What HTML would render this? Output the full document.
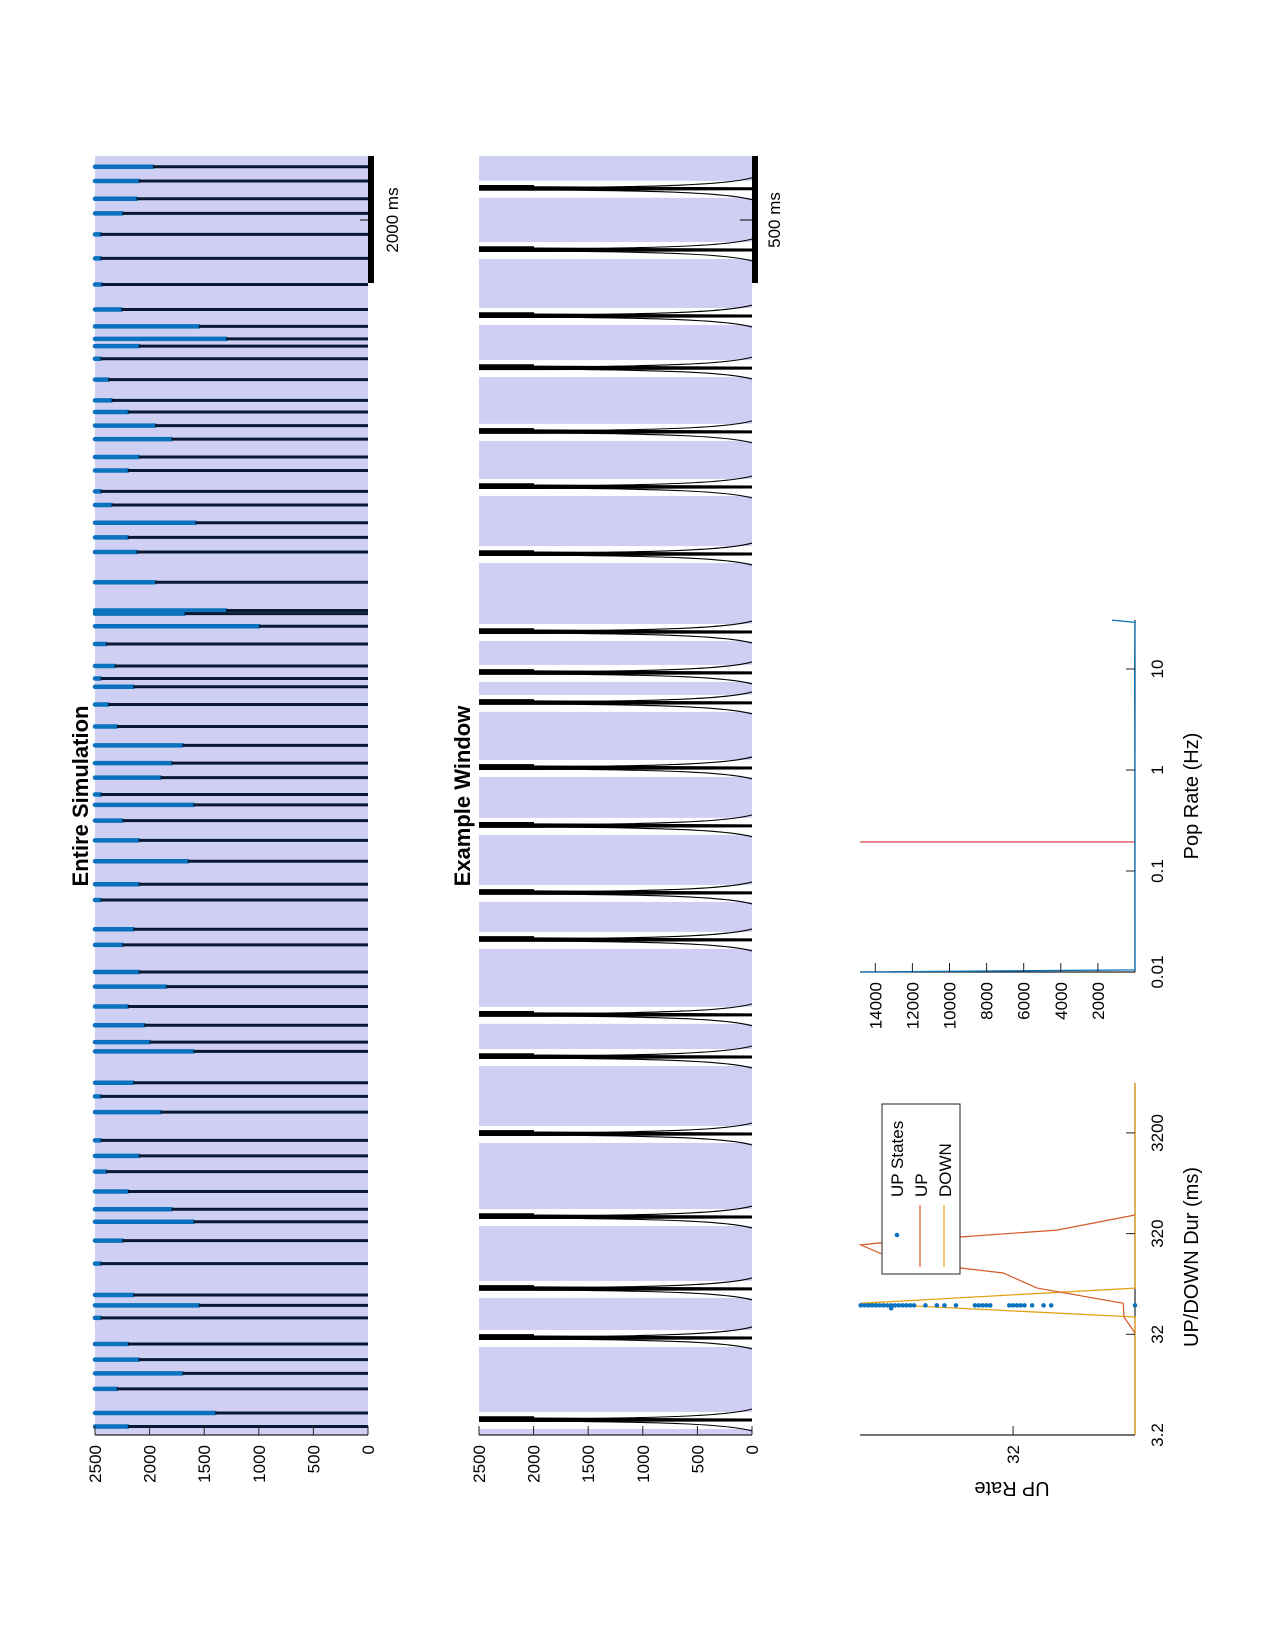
<!DOCTYPE html>
<html><head><meta charset="utf-8"><style>
html,body{margin:0;padding:0;background:#fff;}
svg{display:block;font-family:"Liberation Sans",sans-serif;}
</style></head><body>
<svg id="fig" width="1275" height="1650" viewBox="0 0 1275 1650" xmlns="http://www.w3.org/2000/svg">
<g id="p1"></g>
<g id="p2"></g>
<g id="p3"></g>
<g id="p4"></g>
</svg>
<script>
// ---- data: panel 1 (entire simulation) ----
const simSpikeTimes = [19970,19746,19466,19236,18906,18527,18116,17722,17457,17260,17146,16947,16619,16291,16109,15895,15681,15401,15188,14858,14645,14365,14134,13904,13427,12983,12934,12736,12456,12110,11913,11782,11502,11156,10860,10580,10351,10086,9922,9675,9364,9034,8672,8425,7964,7718,7290,7060,6747,6452,6187,6040,5546,5332,5085,4640,4395,4148,3835,3555,3358,3061,2699,2205,2041,1844,1433,1186,971,726,347,133];
const simBluePeak = [1970,2100,2120,2250,2450,2450,2440,2260,1550,1300,2100,2450,2380,2350,2200,1950,1800,2100,2200,2450,2350,1580,2200,2120,1950,1300,1680,1000,2400,2320,2450,2150,2380,2300,1700,1800,1900,2450,1600,2250,2100,1650,2100,2450,2150,2250,2100,1850,2200,2050,2000,1600,2150,2450,1900,2450,2100,2400,2200,1800,1600,2250,2450,2150,1550,2450,2200,2100,1700,2300,1400,2200];
const simTickLabels = ["2500","2000","1500","1000","500","0"];
const simTickValues = [2500,2000,1500,1000,500,0];
// ---- data: panel 2 (example window) ----
const winDipTimes = [4906,4665,4405,4200,3949,3732,3468,3161,3000,2882,2626,2398,2134,1949,1654,1488,1185,858,575,382,59];
// ---- data: panel 3 (UP/DOWN durations) ----
const durTickLabels = ["3.2","32","320","3200"];
const durTickValues = [3.2,32,320,3200];
const upDur = [490,347,296,258,247,205,146,130,92,65,47.5,33];
const upRate = [0,20.5,46,67,72,67,46,34.6,25.7,3.1,2.9,0];
const downDur = [10000,92,65,47.5,3.2];
const downRate = [0,0,72,0,0];
const dotRate = [72,71,70,69,68,67,66,65,64,63,62,61,60,59,58,55,52,50,47,42,41,40,39,38,33,32,31,30,29,27,24,22,0,64];
const dotDur = [62,62,62,62,62,62,62,62,62,62,62,62,62,62,62,62,62,62,62,62,62,62,62,62,62,62,62,62,62,62,62,62,62,58];
// ---- data: panel 4 (pop rate histogram) ----
const popRateBins = [0.01,0.0105,0.1,1,10,29,30.5];
const popCounts = [14800,0,5,5,20,0,1240];
const popThreshold = 0.194;
const countTickValues = [14000,12000,10000,8000,6000,4000,2000];
const rateTickLabels = ["0.01","0.1","1","10"];
const rateTickValues = [0.01,0.1,1,10];

const NS="http://www.w3.org/2000/svg";
function mk(parent,tag,attrs,text){const e=document.createElementNS(NS,tag);for(const k in attrs)e.setAttribute(k,attrs[k]);if(text!==undefined)e.textContent=text;parent.appendChild(e);return e;}
function vtext(parent,x,y,str,size,anchor,weight){const t=mk(parent,'text',{x:x,y:y,'font-size':size,'text-anchor':anchor,'font-weight':weight||'normal',fill:'#000',transform:`rotate(-90 ${x} ${y})`},str);return t;}
const LAV="#cfcff3", BLUE="#0b72bd";

// ===== Panel 1 =====
(function(){
const g=document.getElementById('p1');
const L=95,R=368,T=156,B=1435, TMAX=20140;
const xv=v=>R-(v/2500)*(R-L);
const yt=t=>B-(t/TMAX)*(B-T);
const bg=mk(g,'rect',{x:L,y:T,width:R-L,height:B-T,fill:LAV});


simSpikeTimes.forEach((t,i)=>{
  const y=yt(t);
  const b=mk(g,'line',{x1:xv(2500),y1:y,x2:xv(simBluePeak[i]),y2:y,stroke:BLUE,'stroke-width':4.5,'stroke-linecap':'round'});
  
  
  const k=mk(g,'line',{x1:xv(simBluePeak[i]),y1:y,x2:R,y2:y,stroke:'#081a33','stroke-width':3});
  
  
});
mk(g,'line',{x1:L,y1:B,x2:R,y2:B,stroke:'#222','stroke-width':1.2});
simTickValues.forEach((v,i)=>{
  const x=xv(v);
  mk(g,'line',{x1:x,y1:B,x2:x,y2:B-9,stroke:'#222','stroke-width':1});
  const t=vtext(g,x+6,B+10,simTickLabels[i],17,'end');
  
  
});
const sb=mk(g,'rect',{x:R,y:T,width:6,height:127,fill:'#000'});


mk(g,'line',{x1:R-8,y1:220,x2:R,y2:220,stroke:'#000','stroke-width':1});
const sl=vtext(g,398,220,"2000 ms",17,'middle');


const ti=vtext(g,88,796,"Entire Simulation",22,'middle','bold');


})();

// ===== Panel 2 =====
(function(){
const g=document.getElementById('p2');
const L=479,R=752,T=156,B=1435,TMAX=5035;
const xv=v=>R-(v/2500)*(R-L);
const yt=t=>B-(t/TMAX)*(B-T);
const ys=winDipTimes.map(yt).sort((a,b)=>a-b);
let prev=T;
ys.forEach(y=>{
  const r=mk(g,'rect',{x:L,y:prev,width:R-L,height:Math.max(0,y-8-prev),fill:LAV});
  
  
  prev=y+9;
});
const last=mk(g,'rect',{x:L,y:prev,width:R-L,height:Math.max(0,B-prev),fill:LAV});


ys.forEach(y=>{
  const d=mk(g,'g',{});
  
  
  mk(d,'path',{d:`M${R},${y-11} C${R-25},${y-4} ${R-90},${y-2} ${L+60},${y-1}`,fill:'none',stroke:'#000','stroke-width':1.1});
  mk(d,'path',{d:`M${R},${y+11} C${R-25},${y+4} ${R-90},${y+2} ${L+60},${y+1}`,fill:'none',stroke:'#000','stroke-width':1.1});
  mk(d,'path',{d:`M${L},${y-2.5} L${L+60},${y-2.5} L${R},${y-1.5} L${R},${y+1.5} L${L+60},${y+2} L${L},${y+2}Z`,fill:'#000'});
  mk(d,'line',{x1:L,y1:y-3,x2:L+55,y2:y-3,stroke:'#000','stroke-width':1.6});
});
mk(g,'line',{x1:L,y1:B,x2:R,y2:B,stroke:'#222','stroke-width':1.2});
simTickValues.forEach((v,i)=>{
  const x=xv(v);
  mk(g,'line',{x1:x,y1:B,x2:x,y2:B-9,stroke:'#222','stroke-width':1});
  const t=vtext(g,x+6,B+10,simTickLabels[i],17,'end');
  
  
});
const sb=mk(g,'rect',{x:R,y:T,width:6,height:127,fill:'#000'});


mk(g,'line',{x1:R-12,y1:220,x2:R,y2:220,stroke:'#000','stroke-width':1});
const sl=vtext(g,780,220,"500 ms",17,'middle');


const ti=vtext(g,470,796,"Example Window",22,'middle','bold');


})();

// ===== Panel 3 =====
(function(){
const g=document.getElementById('p3');
const X0=1135, XL=860, YB=1435, YT=1083;
const xr=r=>X0-r*3.81;
const yd=d=>YB-100.7*Math.log10(d/3.2);
mk(g,'line',{x1:XL,y1:YB,x2:X0,y2:YB,stroke:'#222','stroke-width':1.2});
mk(g,'line',{x1:X0,y1:YT,x2:X0,y2:YB,stroke:'#222','stroke-width':1.2});
const dpath=downDur.map((d,i)=>`${i?'L':'M'}${xr(downRate[i]).toFixed(1)},${yd(d).toFixed(1)}`).join(' ');
const dl=mk(g,'path',{d:dpath,fill:'none',stroke:'#e3a21a','stroke-width':1.3});


const upath=upDur.map((d,i)=>`${i?'L':'M'}${xr(upRate[i]).toFixed(1)},${yd(d).toFixed(1)}`).join(' ');
const ul=mk(g,'path',{d:upath,fill:'none',stroke:'#d45a2a','stroke-width':1.2});


dotRate.forEach((r,i)=>{
  const c=mk(g,'circle',{cx:xr(r),cy:yd(dotDur[i]),r:2.3,fill:BLUE});
  
  
});
durTickValues.forEach((v,i)=>{
  const y=yd(v);
  mk(g,'line',{x1:X0,y1:y,x2:X0-9,y2:y,stroke:'#222','stroke-width':1});
  const t=vtext(g,X0+28,y,durTickLabels[i],17,'middle');
  
  
});
mk(g,'line',{x1:xr(32),y1:YB,x2:xr(32),y2:YB-9,stroke:'#222','stroke-width':1});
const rt=vtext(g,xr(32)+6,YB+10,"32",17,'end');


const xl=vtext(g,1198,1257,"UP/DOWN Dur (ms)",20,'middle');


const yl=mk(g,'text',{x:1012,y:1482,'font-size':20,'text-anchor':'middle',transform:'rotate(180 1012 1482)'},"UP Rate");


const lg=mk(g,'g',{});


mk(lg,'rect',{x:882,y:1104,width:78,height:170,fill:'#fff',stroke:'#222','stroke-width':1});
mk(lg,'circle',{cx:897,cy:1235,r:2.3,fill:BLUE});
mk(lg,'line',{x1:920,y1:1205,x2:920,y2:1267,stroke:'#d45a2a','stroke-width':1.2});
mk(lg,'line',{x1:944,y1:1205,x2:944,y2:1267,stroke:'#e3a21a','stroke-width':1.2});
vtext(lg,903,1197,"UP States",17,'start');
vtext(lg,927,1197,"UP",17,'start');
vtext(lg,951,1197,"DOWN",17,'start');
})();

// ===== Panel 4 =====
(function(){
const g=document.getElementById('p4');
const X0=1135, XL=860, YB=972, YT=620;
const xc=c=>X0-c*(37.1/2000);
const yr=r=>YB-101*Math.log10(r/0.01);
mk(g,'line',{x1:XL,y1:YB,x2:X0,y2:YB,stroke:'#222','stroke-width':1.2});
mk(g,'line',{x1:X0,y1:YT,x2:X0,y2:YB,stroke:'#222','stroke-width':1.2});
const th=mk(g,'line',{x1:XL,y1:yr(popThreshold),x2:X0,y2:yr(popThreshold),stroke:'#e8555a','stroke-width':1.3});


const hp=popRateBins.map((r,i)=>`${i?'L':'M'}${xc(popCounts[i]).toFixed(1)},${yr(r).toFixed(1)}`).join(' ');
const h=mk(g,'path',{d:hp,fill:'none',stroke:BLUE,'stroke-width':1.3});


countTickValues.forEach(v=>{
  const x=xc(v);
  mk(g,'line',{x1:x,y1:YB,x2:x,y2:YB-9,stroke:'#222','stroke-width':1});
  const t=vtext(g,x+6,YB+10,String(v),17,'end');
  
  
});
rateTickValues.forEach((v,i)=>{
  const y=yr(v);
  mk(g,'line',{x1:X0,y1:y,x2:X0-9,y2:y,stroke:'#222','stroke-width':1});
  const t=vtext(g,X0+28,y,rateTickLabels[i],17,'middle');
  
  
});
const xl=vtext(g,1198,796,"Pop Rate (Hz)",20,'middle');


})();
</script>
</body></html>
